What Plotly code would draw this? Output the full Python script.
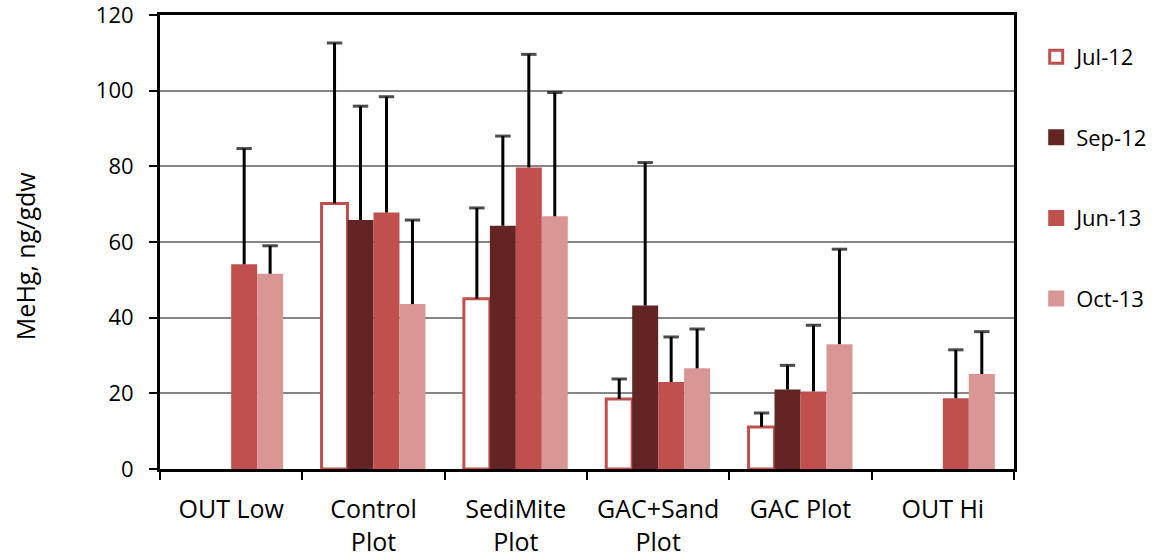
import plotly.graph_objects as go

categories = ["OUT Low", "Control<br>Plot", "SediMite<br>Plot", "GAC+Sand<br>Plot", "GAC Plot", "OUT Hi"]
series_names = ["Jul-12", "Sep-12", "Jun-13", "Oct-13"]

jul12 = [None, 70.2, 45.0, 18.5, 11.1, None]
sep12 = [None, 65.8, 64.3, 43.2, 21.0, None]
jun13 = [54.1, 67.8, 79.7, 23.0, 20.5, 18.7]
oct13 = [51.6, 43.6, 66.8, 26.6, 33.0, 25.1]

jul12_err = [None, 42.4, 24.0, 5.3, 3.7, None]
sep12_err = [None, 30.1, 23.7, 37.8, 6.4, None]
jun13_err = [30.6, 30.6, 29.9, 11.9, 17.5, 12.8]
oct13_err = [7.4, 22.2, 32.7, 10.4, 25.1, 11.2]

y_ticks = [0, 20, 40, 60, 80, 100, 120]

FONT = "Open Sans"
GAP = 0.27

fig = go.Figure()

series = [
    (series_names[0], jul12, jul12_err, "white", "#C0504D", 3),
    (series_names[1], sep12, sep12_err, "#632523", "#632523", 0),
    (series_names[2], jun13, jun13_err, "#C0504D", "#C0504D", 0),
    (series_names[3], oct13, oct13_err, "#D99694", "#D99694", 0),
]

for name, vals, errs, fill, line_col, lw in series:
    fig.add_trace(go.Bar(
        name=name,
        x=categories,
        y=vals,
        offsetgroup=name,
        showlegend=False,
        marker=dict(color=fill, line=dict(color=line_col, width=lw)),
    ))

for name, vals, errs, fill, line_col, lw in series:
    # plus-only error bars: vertical stem from bar top, cap at the end
    ex, ey, esize = [], [], []
    for c, v, e in zip(categories, vals, errs):
        if v is None or e is None:
            continue
        ex += [c, c, None]
        ey += [v, v + e, None]
        esize += [0, 11, 0]
    fig.add_trace(go.Scatter(
        x=ex,
        y=ey,
        mode="lines+markers",
        offsetgroup=name,
        showlegend=False,
        hoverinfo="skip",
        line=dict(color="black", width=3),
        marker=dict(symbol="line-ew-open", size=esize, color="black",
                    line=dict(color="black", width=3)),
        cliponaxis=False,
    ))
    fig.add_trace(go.Scatter(
        name=name,
        x=[None],
        y=[None],
        mode="markers",
        offsetgroup=name,
        legendgroup=name,
        showlegend=True,
        marker=dict(symbol="square", size=13 if lw else 16, color=fill,
                    line=dict(color=line_col, width=lw)),
    ))

fig.update_layout(
    width=1161,
    height=559,
    margin=dict(l=160, r=147, t=15, b=90, autoexpand=False),
    paper_bgcolor="white",
    plot_bgcolor="white",
    barmode="group",
    bargap=GAP,
    bargroupgap=0,
    scattermode="group",
    scattergap=GAP,
    font=dict(family=FONT, color="black"),
    showlegend=True,
    legend=dict(
        x=1.026,
        xanchor="left",
        y=0.954,
        yanchor="top",
        traceorder="grouped",
        tracegroupgap=49,
        font=dict(size=22, family=FONT, color="black"),
        itemwidth=30,
        bgcolor="rgba(0,0,0,0)",
    ),
    xaxis=dict(
        type="category",
        automargin=False,
        showline=True,
        linecolor="black",
        linewidth=3,
        mirror=True,
        ticks="outside",
        tickson="boundaries",
        ticklen=8,
        tickwidth=2,
        tickcolor="black",
        showgrid=False,
        tickfont=dict(size=25, family=FONT, color="black"),
        ticklabelstandoff=16,
        ticklabeloverflow="allow",
    ),
    yaxis=dict(
        range=[0, 120],
        automargin=False,
        tickvals=y_ticks,
        showline=True,
        linecolor="black",
        linewidth=3,
        mirror=True,
        ticks="outside",
        ticklen=8,
        tickwidth=2,
        tickcolor="black",
        showgrid=True,
        gridcolor="#868686",
        gridwidth=1.5,
        zeroline=False,
        tickfont=dict(size=22, family=FONT, color="black"),
        ticklabelstandoff=11,
        ticklabeloverflow="allow",
    ),
    annotations=[
        dict(
            text="MeHg, ng/gdw",
            textangle=-90,
            xref="paper",
            yref="paper",
            x=-0.158,
            y=0.469,
            xanchor="center",
            yanchor="middle",
            showarrow=False,
            font=dict(size=25, family=FONT, color="black"),
        )
    ],
)

fig.write_html("out.html")
